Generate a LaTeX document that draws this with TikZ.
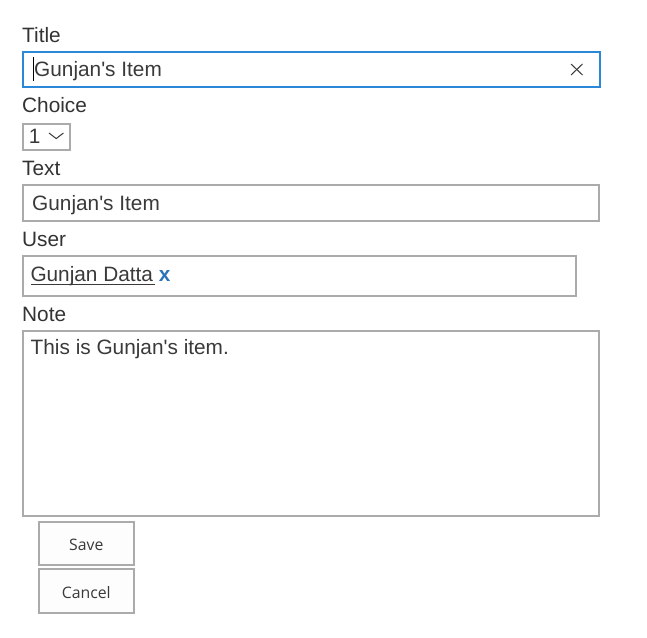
\documentclass[tikz,border=0pt]{standalone}
\usepackage{fontspec}
\setmainfont{Liberation Sans}
\newfontfamily\btnfont{Open Sans}
\definecolor{lbl}{HTML}{333333}
\definecolor{fld}{HTML}{3A3A3A}
\definecolor{bord}{HTML}{ABABAB}
\definecolor{focus}{HTML}{2B88D8}
\definecolor{xblue}{HTML}{2B74B8}
\definecolor{btnfill}{HTML}{FDFDFD}
\newcommand{\sq}{\textquotesingle}
\tikzset{
  fieldbox/.style={draw=bord, line width=2pt},
  focusbox/.style={draw=focus, line width=2pt},
  btnbox/.style={draw=bord, line width=2pt, fill=btnfill},
  lab/.style={anchor=base west, inner sep=0pt, text=lbl, font=\fontsize{20.8}{24}\selectfont},
  val/.style={anchor=base west, inner sep=0pt, text=fld, font=\fontsize{20.8}{24}\selectfont},
  btntext/.style={anchor=base, inner sep=0pt, text=fld, font=\btnfont\fontsize{15.8}{18}\selectfont},
}
\begin{document}
\begin{tikzpicture}[x=1pt,y=-1pt]
\useasboundingbox[fill=white] (0,0) rectangle (647,637);
% Title
\node[lab] (ltitle) at (22,42) {Title};
\draw[focusbox] (23,52) rectangle (600,87);
\node[val] (vtitle) at (34,76.7) {Gunjan\sq s Item};
\draw[black, line width=1.6pt] (33.3,57) -- (33.3,81);
\draw[fld, line width=1pt] (571,64) -- (582.5,75) (582.5,64) -- (571,75);
% Choice
\node[lab] (lchoice) at (22,112) {Choice};
\draw[fieldbox] (23,124) rectangle (69.5,150);
\node[val] (vchoice) at (28.6,143.3) {1};
\draw[fld, line width=1pt] (49,133) -- (56.2,138.6) -- (63.4,133);
% Text
\node[lab] (ltext) at (22,175) {Text};
\draw[fieldbox] (23,185) rectangle (599,221);
\node[val] (vtext) at (32,210.5) {Gunjan\sq s Item};
% User
\node[lab] (luser) at (22,246) {User};
\draw[fieldbox] (23,255.5) rectangle (576,296);
\node[val] (vuser) at (30.3,281.7) {Gunjan Datta};
\draw[fld, line width=1.6pt] (31.3,284.6) -- (155,284.6);
\node[val, text=xblue, font=\bfseries\fontsize{20.8}{24}\selectfont] (xuser) at (158.6,281.7) {x};
% Note
\node[lab] (lnote) at (22,321) {Note};
\draw[fieldbox] (23,330.5) rectangle (599,516);
\node[val] (vnote) at (30.5,354) {This is Gunjan\sq s item.};
% Buttons
\draw[btnbox] (38.5,521.5) rectangle (134,565);
\node[btntext] (save) at (86.3,550) {Save};
\draw[btnbox] (38.5,569) rectangle (134,613);
\node[btntext] (cancel) at (86.3,598.3) {Cancel};
\end{tikzpicture}
\end{document}
